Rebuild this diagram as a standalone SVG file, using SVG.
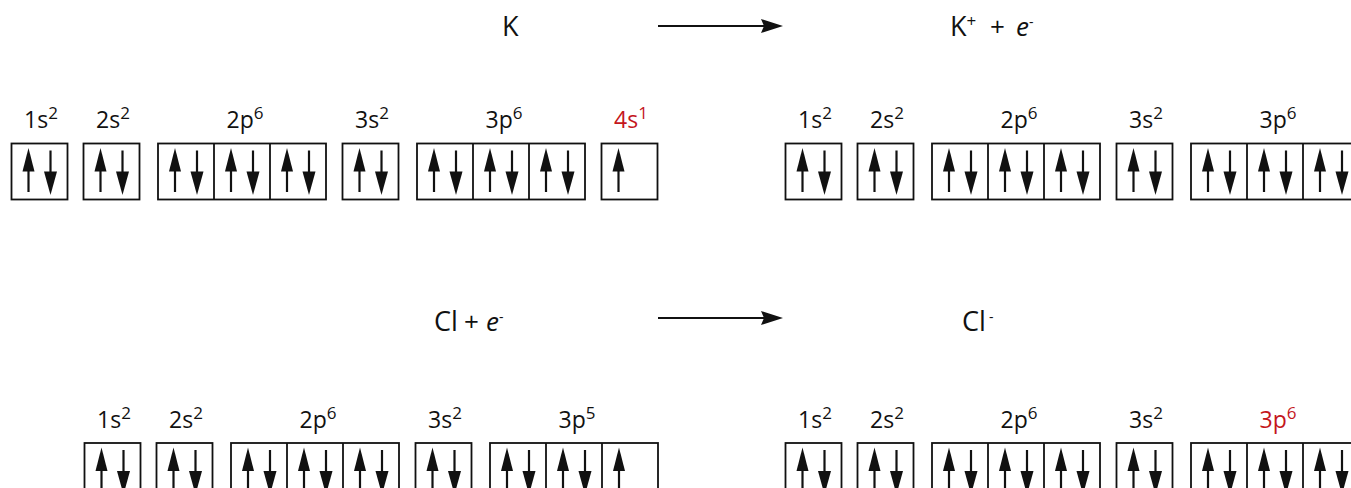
<svg xmlns="http://www.w3.org/2000/svg" xmlns:xlink="http://www.w3.org/1999/xlink" width="1351" height="488" viewBox="0 0 1351 488">
  <style>
    text { font-family: "Open Sans", "Noto Sans", "DejaVu Sans", sans-serif; fill: #111; }
    .lbl { font-size: 23px; text-anchor: middle; }
    .sup { font-size: 17px; }
    .red, .red tspan { fill: #c4161c; }
    .eq { font-size: 27px; }
    .op { font-size: 26px; }
    .el { font-size: 26px; font-style: italic; }
    .chg { font-size: 14px; }
    .box { fill: #fff; stroke: #111; stroke-width: 1.8; }
    .div { stroke: #111; stroke-width: 1.8; }
    .shaft { stroke: #111; stroke-width: 2.2; }
    .head { fill: #111; }
    .rxn { stroke: #111; stroke-width: 2; fill: none; marker-end: url(#rxnHead); }
  </style>
  <defs>
    <!-- spin-up electron, origin at shaft x / box top -->
    <g id="up">
      <line class="shaft" x1="0" y1="26" x2="0" y2="48.5"/>
      <polygon class="head" points="0,4.5 -6,28 6,28"/>
    </g>
    <!-- spin-down electron -->
    <g id="dn">
      <line class="shaft" x1="0" y1="7" x2="0" y2="30"/>
      <polygon class="head" points="-6.5,28 6.5,28 0,51.5"/>
    </g>
    <marker id="rxnHead" markerUnits="userSpaceOnUse" markerWidth="22" markerHeight="14" refX="3" refY="7" orient="auto">
      <path d="M0,0 L22,7 L0,14 L3,7 Z" fill="#111"/>
    </marker>
  </defs>

  <!-- equations -->
  <g id="eq-k">
    <text class="eq" x="502" y="36">K</text>
  </g>
  <g id="eq-kplus">
    <text class="eq" x="950" y="36">K<tspan class="sup" dy="-9">+</tspan></text>
    <text class="op" x="990" y="36">+</text>
    <text class="el" x="1016" y="36">e</text>
    <text class="chg" x="1029" y="27">-</text>
  </g>
  <g id="eq-cl">
    <text class="eq" x="434" y="331">Cl</text>
    <text class="op" x="464" y="331">+</text>
    <text class="el" x="486" y="331">e</text>
    <text class="chg" x="499" y="322">-</text>
  </g>
  <g id="eq-clminus">
    <text class="eq" x="962" y="331">Cl</text>
    <text class="chg" x="989" y="322">-</text>
  </g>

  <g id="connectors">
    <line class="rxn" x1="658" y1="26" x2="764" y2="26"/>
    <line class="rxn" x1="658" y1="318" x2="764" y2="318"/>
  </g>

  <!-- K: 1s2 2s2 2p6 3s2 3p6 4s1 -->
  <g id="k-1s">
    <text class="lbl" x="41" y="128">1s<tspan class="sup" dy="-9">2</tspan></text>
    <rect class="box" x="11.5" y="143.5" width="56" height="56"/>
    <use xlink:href="#up" x="28.5" y="143.5"/><use xlink:href="#dn" x="50.5" y="143.5"/>
  </g>
  <g id="k-2s">
    <text class="lbl" x="113" y="128">2s<tspan class="sup" dy="-9">2</tspan></text>
    <rect class="box" x="83.5" y="143.5" width="56" height="56"/>
    <use xlink:href="#up" x="100.5" y="143.5"/><use xlink:href="#dn" x="122.5" y="143.5"/>
  </g>
  <g id="k-2p">
    <text class="lbl" x="245" y="128">2p<tspan class="sup" dy="-9">6</tspan></text>
    <rect class="box" x="158" y="143.5" width="168" height="56"/>
    <line class="div" x1="214" y1="143.5" x2="214" y2="199.5"/><line class="div" x1="270" y1="143.5" x2="270" y2="199.5"/>
    <use xlink:href="#up" x="175" y="143.5"/><use xlink:href="#dn" x="197" y="143.5"/>
    <use xlink:href="#up" x="231" y="143.5"/><use xlink:href="#dn" x="253" y="143.5"/>
    <use xlink:href="#up" x="287" y="143.5"/><use xlink:href="#dn" x="309" y="143.5"/>
  </g>
  <g id="k-3s">
    <text class="lbl" x="372" y="128">3s<tspan class="sup" dy="-9">2</tspan></text>
    <rect class="box" x="342.5" y="143.5" width="56" height="56"/>
    <use xlink:href="#up" x="359.5" y="143.5"/><use xlink:href="#dn" x="381.5" y="143.5"/>
  </g>
  <g id="k-3p">
    <text class="lbl" x="504" y="128">3p<tspan class="sup" dy="-9">6</tspan></text>
    <rect class="box" x="417" y="143.5" width="168" height="56"/>
    <line class="div" x1="473" y1="143.5" x2="473" y2="199.5"/><line class="div" x1="529" y1="143.5" x2="529" y2="199.5"/>
    <use xlink:href="#up" x="434" y="143.5"/><use xlink:href="#dn" x="456" y="143.5"/>
    <use xlink:href="#up" x="490" y="143.5"/><use xlink:href="#dn" x="512" y="143.5"/>
    <use xlink:href="#up" x="546" y="143.5"/><use xlink:href="#dn" x="568" y="143.5"/>
  </g>
  <g id="k-4s">
    <text class="lbl red" x="631" y="128">4s<tspan class="sup" dy="-9">1</tspan></text>
    <rect class="box" x="601.5" y="143.5" width="56" height="56"/>
    <use xlink:href="#up" x="618.5" y="143.5"/>
  </g>

  <!-- K+: 1s2 2s2 2p6 3s2 3p6 -->
  <g id="kp-1s">
    <text class="lbl" x="815" y="128">1s<tspan class="sup" dy="-9">2</tspan></text>
    <rect class="box" x="785.5" y="143.5" width="56" height="56"/>
    <use xlink:href="#up" x="802.5" y="143.5"/><use xlink:href="#dn" x="824.5" y="143.5"/>
  </g>
  <g id="kp-2s">
    <text class="lbl" x="887" y="128">2s<tspan class="sup" dy="-9">2</tspan></text>
    <rect class="box" x="857.5" y="143.5" width="56" height="56"/>
    <use xlink:href="#up" x="874.5" y="143.5"/><use xlink:href="#dn" x="896.5" y="143.5"/>
  </g>
  <g id="kp-2p">
    <text class="lbl" x="1019" y="128">2p<tspan class="sup" dy="-9">6</tspan></text>
    <rect class="box" x="932" y="143.5" width="168" height="56"/>
    <line class="div" x1="988" y1="143.5" x2="988" y2="199.5"/><line class="div" x1="1044" y1="143.5" x2="1044" y2="199.5"/>
    <use xlink:href="#up" x="949" y="143.5"/><use xlink:href="#dn" x="971" y="143.5"/>
    <use xlink:href="#up" x="1005" y="143.5"/><use xlink:href="#dn" x="1027" y="143.5"/>
    <use xlink:href="#up" x="1061" y="143.5"/><use xlink:href="#dn" x="1083" y="143.5"/>
  </g>
  <g id="kp-3s">
    <text class="lbl" x="1146" y="128">3s<tspan class="sup" dy="-9">2</tspan></text>
    <rect class="box" x="1116.5" y="143.5" width="56" height="56"/>
    <use xlink:href="#up" x="1133.5" y="143.5"/><use xlink:href="#dn" x="1155.5" y="143.5"/>
  </g>
  <g id="kp-3p">
    <text class="lbl" x="1278" y="128">3p<tspan class="sup" dy="-9">6</tspan></text>
    <rect class="box" x="1191" y="143.5" width="168" height="56"/>
    <line class="div" x1="1247" y1="143.5" x2="1247" y2="199.5"/><line class="div" x1="1303" y1="143.5" x2="1303" y2="199.5"/>
    <use xlink:href="#up" x="1208" y="143.5"/><use xlink:href="#dn" x="1230" y="143.5"/>
    <use xlink:href="#up" x="1264" y="143.5"/><use xlink:href="#dn" x="1286" y="143.5"/>
    <use xlink:href="#up" x="1320" y="143.5"/><use xlink:href="#dn" x="1342" y="143.5"/>
  </g>

  <!-- Cl: 1s2 2s2 2p6 3s2 3p5 -->
  <g id="cl-1s">
    <text class="lbl" x="114" y="427.5">1s<tspan class="sup" dy="-9">2</tspan></text>
    <rect class="box" x="84.5" y="443" width="56" height="56"/>
    <use xlink:href="#up" x="101.5" y="443"/><use xlink:href="#dn" x="123.5" y="443"/>
  </g>
  <g id="cl-2s">
    <text class="lbl" x="186" y="427.5">2s<tspan class="sup" dy="-9">2</tspan></text>
    <rect class="box" x="156.5" y="443" width="56" height="56"/>
    <use xlink:href="#up" x="173.5" y="443"/><use xlink:href="#dn" x="195.5" y="443"/>
  </g>
  <g id="cl-2p">
    <text class="lbl" x="318" y="427.5">2p<tspan class="sup" dy="-9">6</tspan></text>
    <rect class="box" x="231" y="443" width="168" height="56"/>
    <line class="div" x1="287" y1="443" x2="287" y2="499"/><line class="div" x1="343" y1="443" x2="343" y2="499"/>
    <use xlink:href="#up" x="248" y="443"/><use xlink:href="#dn" x="270" y="443"/>
    <use xlink:href="#up" x="304" y="443"/><use xlink:href="#dn" x="326" y="443"/>
    <use xlink:href="#up" x="360" y="443"/><use xlink:href="#dn" x="382" y="443"/>
  </g>
  <g id="cl-3s">
    <text class="lbl" x="445" y="427.5">3s<tspan class="sup" dy="-9">2</tspan></text>
    <rect class="box" x="415.5" y="443" width="56" height="56"/>
    <use xlink:href="#up" x="432.5" y="443"/><use xlink:href="#dn" x="454.5" y="443"/>
  </g>
  <g id="cl-3p">
    <text class="lbl" x="577" y="427.5">3p<tspan class="sup" dy="-9">5</tspan></text>
    <rect class="box" x="490" y="443" width="168" height="56"/>
    <line class="div" x1="546" y1="443" x2="546" y2="499"/><line class="div" x1="602" y1="443" x2="602" y2="499"/>
    <use xlink:href="#up" x="507" y="443"/><use xlink:href="#dn" x="529" y="443"/>
    <use xlink:href="#up" x="563" y="443"/><use xlink:href="#dn" x="585" y="443"/>
    <use xlink:href="#up" x="619" y="443"/>
  </g>

  <!-- Cl-: 1s2 2s2 2p6 3s2 3p6 -->
  <g id="clm-1s">
    <text class="lbl" x="815" y="427.5">1s<tspan class="sup" dy="-9">2</tspan></text>
    <rect class="box" x="785.5" y="443" width="56" height="56"/>
    <use xlink:href="#up" x="802.5" y="443"/><use xlink:href="#dn" x="824.5" y="443"/>
  </g>
  <g id="clm-2s">
    <text class="lbl" x="887" y="427.5">2s<tspan class="sup" dy="-9">2</tspan></text>
    <rect class="box" x="857.5" y="443" width="56" height="56"/>
    <use xlink:href="#up" x="874.5" y="443"/><use xlink:href="#dn" x="896.5" y="443"/>
  </g>
  <g id="clm-2p">
    <text class="lbl" x="1019" y="427.5">2p<tspan class="sup" dy="-9">6</tspan></text>
    <rect class="box" x="932" y="443" width="168" height="56"/>
    <line class="div" x1="988" y1="443" x2="988" y2="499"/><line class="div" x1="1044" y1="443" x2="1044" y2="499"/>
    <use xlink:href="#up" x="949" y="443"/><use xlink:href="#dn" x="971" y="443"/>
    <use xlink:href="#up" x="1005" y="443"/><use xlink:href="#dn" x="1027" y="443"/>
    <use xlink:href="#up" x="1061" y="443"/><use xlink:href="#dn" x="1083" y="443"/>
  </g>
  <g id="clm-3s">
    <text class="lbl" x="1146" y="427.5">3s<tspan class="sup" dy="-9">2</tspan></text>
    <rect class="box" x="1116.5" y="443" width="56" height="56"/>
    <use xlink:href="#up" x="1133.5" y="443"/><use xlink:href="#dn" x="1155.5" y="443"/>
  </g>
  <g id="clm-3p">
    <text class="lbl red" x="1278" y="427.5">3p<tspan class="sup" dy="-9">6</tspan></text>
    <rect class="box" x="1191" y="443" width="168" height="56"/>
    <line class="div" x1="1247" y1="443" x2="1247" y2="499"/><line class="div" x1="1303" y1="443" x2="1303" y2="499"/>
    <use xlink:href="#up" x="1208" y="443"/><use xlink:href="#dn" x="1230" y="443"/>
    <use xlink:href="#up" x="1264" y="443"/><use xlink:href="#dn" x="1286" y="443"/>
    <use xlink:href="#up" x="1320" y="443"/><use xlink:href="#dn" x="1342" y="443"/>
  </g>
</svg>
